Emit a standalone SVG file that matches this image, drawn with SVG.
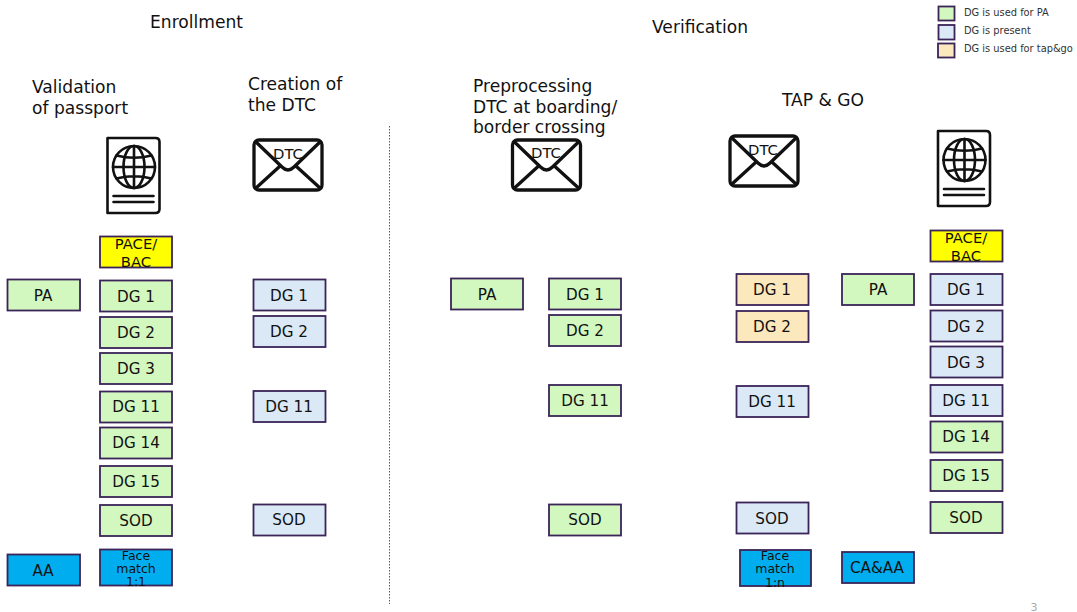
<svg xmlns="http://www.w3.org/2000/svg" width="1077" height="612" viewBox="0 0 1077 612">
<style>
text{font-family:"DejaVu Sans",Verdana,sans-serif;fill:#111}
.h{font-size:17.100px}
.b{font-size:15.200px;text-anchor:middle}
.s{font-size:12.500px;text-anchor:middle}
.m{font-size:14.800px;text-anchor:middle}
.l{font-size:9.850px;fill:#333}
.n{stroke:#3a2458;stroke-width:1.800}
.g{fill:#d2f7bf}.p{fill:#dbe9f6}.o{fill:#fce8bd}.c{fill:#00aeef}.y{fill:#ffff00}
.i{fill:none;stroke:#111;stroke-width:2.600;stroke-linejoin:round;stroke-linecap:round}
.e{fill:none;stroke:#111;stroke-width:3.300;stroke-linejoin:round;stroke-linecap:round}
</style>
<defs>
<g id="passport">
<path d="M0 0H48Q52 0 52 4V71Q52 75 48 75H0Z" class="i"/>
<circle cx="26.500" cy="29" r="21" class="i"/>
<ellipse cx="26.500" cy="29" rx="10.500" ry="21" class="i"/>
<path d="M26.500 8V50M5.500 29H47.500M9 17.500Q26.500 22 44 17.500M9 40.500Q26.500 36 44 40.500M6 58H46M6 64H46" class="i"/>
</g>
<g id="env">
<rect x="0" y="0" width="68" height="50" rx="5" class="e"/>
<path d="M2 2L28 27Q34 33 40 27L66 2M2 48L25 27M66 48L43 27" class="e"/>
</g>
</defs>
<g id="connectors"><path d="M389.500 126V604" fill="none" stroke="#555" stroke-width="1" stroke-dasharray="1.500 1.500"/></g>
<g id="titles">
<text class="h" x="150" y="28">Enrollment</text>
<text class="h" x="652" y="33">Verification</text>
<text class="h" x="32" y="93">Validation</text><text class="h" x="32" y="114">of passport</text>
<text class="h" x="248" y="90">Creation of</text><text class="h" x="248" y="111">the DTC</text>
<text class="h" x="473" y="92">Preprocessing</text><text class="h" x="473" y="113">DTC at boarding/</text><text class="h" x="473" y="133">border crossing</text>
<text class="h" x="782" y="106">TAP &amp; GO</text>
<text x="1034" y="611" style="font-size:11px;fill:#aaa;text-anchor:middle">3</text>
</g>
<g id="legend">
<rect class="n g" x="938.500" y="6.500" width="16" height="14"/><text class="l" x="964" y="16">DG is used for PA</text>
<rect class="n p" x="938.500" y="25" width="16" height="14.500"/><text class="l" x="964" y="34">DG is present</text>
<rect class="n o" x="938" y="43.500" width="16.500" height="14"/><text class="l" x="964" y="52">DG is used for tap&amp;go</text>
</g>
<g id="icon-passport-1"><use href="#passport" x="107.500" y="138"/></g>
<g id="icon-dtc-1"><use href="#env" x="254" y="140"/><text class="m" x="288" y="159">DTC</text></g>
<g id="icon-dtc-2"><use href="#env" x="512.500" y="140"/><text class="m" x="546" y="158">DTC</text></g>
<g id="icon-dtc-3"><use href="#env" x="730" y="136"/><text class="m" x="763" y="155">DTC</text></g>
<g id="icon-passport-2"><use href="#passport" x="938" y="131"/></g>

<g id="n1"><rect class="n y" x="100" y="236.500" width="72" height="31"/><text class="m" x="136" y="249">PACE/</text><text class="m" x="136" y="267">BAC</text></g>
<g id="n2"><rect class="n g" x="7.500" y="279.500" width="72.500" height="31"/><text class="b" x="43" y="301">PA</text></g>
<g id="n3"><rect class="n g" x="100" y="280.500" width="72" height="31"/><text class="b" x="136" y="302">DG 1</text></g>
<g id="n4"><rect class="n g" x="100" y="317" width="72" height="31"/><text class="b" x="136" y="338">DG 2</text></g>
<g id="n5"><rect class="n g" x="100" y="353" width="72" height="31"/><text class="b" x="136" y="374">DG 3</text></g>
<g id="n6"><rect class="n g" x="100" y="391.500" width="72" height="31"/><text class="b" x="136" y="412">DG 11</text></g>
<g id="n7"><rect class="n g" x="100" y="427.500" width="72" height="31"/><text class="b" x="136" y="448">DG 14</text></g>
<g id="n8"><rect class="n g" x="100" y="466" width="72" height="31"/><text class="b" x="136" y="487">DG 15</text></g>
<g id="n9"><rect class="n g" x="100" y="505" width="72" height="31"/><text class="b" x="136" y="526">SOD</text></g>
<g id="n10"><rect class="n c" x="7.500" y="554.500" width="72.500" height="31"/><text class="b" x="43" y="576">AA</text></g>
<g id="n11"><rect class="n c" x="100" y="549.500" width="72" height="36"/><text class="s" x="136" y="560">Face</text><text class="s" x="136" y="573">match</text><text class="s" x="136" y="586">1:1</text></g>

<g id="n12"><rect class="n p" x="253.500" y="279.500" width="72" height="31"/><text class="b" x="289" y="301">DG 1</text></g>
<g id="n13"><rect class="n p" x="253.500" y="316" width="72" height="31"/><text class="b" x="289" y="337">DG 2</text></g>
<g id="n14"><rect class="n p" x="253.500" y="391" width="72" height="31"/><text class="b" x="289" y="412">DG 11</text></g>
<g id="n15"><rect class="n p" x="253.500" y="504.500" width="72" height="31"/><text class="b" x="289" y="525">SOD</text></g>

<g id="n16"><rect class="n g" x="451" y="278.500" width="72" height="31"/><text class="b" x="487" y="300">PA</text></g>
<g id="n17"><rect class="n g" x="549" y="278.500" width="72" height="31"/><text class="b" x="585" y="300">DG 1</text></g>
<g id="n18"><rect class="n g" x="549" y="315" width="72" height="31"/><text class="b" x="585" y="336">DG 2</text></g>
<g id="n19"><rect class="n g" x="549" y="385" width="72" height="31"/><text class="b" x="585" y="406">DG 11</text></g>
<g id="n20"><rect class="n g" x="549" y="504.500" width="72" height="31"/><text class="b" x="585" y="525">SOD</text></g>

<g id="n21"><rect class="n o" x="736.500" y="274" width="72" height="31"/><text class="b" x="772" y="295">DG 1</text></g>
<g id="n22"><rect class="n o" x="736.500" y="311" width="72" height="31"/><text class="b" x="772" y="332">DG 2</text></g>
<g id="n23"><rect class="n p" x="736.500" y="386" width="72" height="31"/><text class="b" x="772" y="407">DG 11</text></g>
<g id="n24"><rect class="n p" x="736.500" y="502.500" width="72" height="31"/><text class="b" x="772" y="524">SOD</text></g>
<g id="n25"><rect class="n c" x="740" y="550" width="71" height="36"/><text class="s" x="775" y="560">Face</text><text class="s" x="775" y="573">match</text><text class="s" x="775" y="587">1:n</text></g>

<g id="n26"><rect class="n g" x="842" y="274" width="72" height="31"/><text class="b" x="878" y="295">PA</text></g>
<g id="n27"><rect class="n c" x="842" y="552" width="72" height="31"/><text class="b" x="877" y="573">CA&amp;AA</text></g>

<g id="n28"><rect class="n y" x="930.500" y="230.500" width="72" height="31"/><text class="m" x="966" y="243">PACE/</text><text class="m" x="966" y="261">BAC</text></g>
<g id="n29"><rect class="n p" x="930.500" y="274" width="72" height="31"/><text class="b" x="966" y="295">DG 1</text></g>
<g id="n30"><rect class="n p" x="930.500" y="310.500" width="72" height="31"/><text class="b" x="966" y="332">DG 2</text></g>
<g id="n31"><rect class="n p" x="930.500" y="346.500" width="72" height="31"/><text class="b" x="966" y="368">DG 3</text></g>
<g id="n32"><rect class="n p" x="930.500" y="385" width="72" height="31"/><text class="b" x="966" y="406">DG 11</text></g>
<g id="n33"><rect class="n g" x="930.500" y="421.500" width="72" height="31"/><text class="b" x="966" y="442">DG 14</text></g>
<g id="n34"><rect class="n g" x="930.500" y="460" width="72" height="31"/><text class="b" x="966" y="481">DG 15</text></g>
<g id="n35"><rect class="n g" x="930.500" y="502" width="72" height="31"/><text class="b" x="966" y="523">SOD</text></g>
</svg>
